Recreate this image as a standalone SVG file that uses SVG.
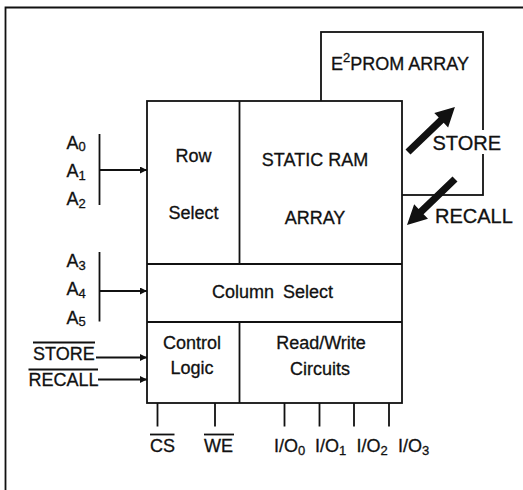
<svg xmlns="http://www.w3.org/2000/svg" width="523" height="490" viewBox="0 0 523 490">
<defs>
<style>
.ln{stroke:#111;stroke-width:1.8;fill:none}
.box{stroke:#111;stroke-width:1.8;fill:#fff}
.t{font-family:"Liberation Sans",Arial,sans-serif;font-size:18px;fill:#111;stroke:#111;stroke-width:0.3}
.tm{text-anchor:middle}
.big{font-size:20px}
.sub{font-size:13px}
.thick{fill:#111}
</style>
<marker id="ah" viewBox="0 0 10 10" refX="10" refY="5" markerWidth="9" markerHeight="7" markerUnits="userSpaceOnUse" orient="auto"><path d="M0,0L10,5L0,10z" fill="#111"/></marker>
</defs>
<rect width="523" height="490" fill="#fff"/>
<g id="frame"><path class="ln" d="M5.5,490V7.5H523"/></g>
<g id="eeprom">
<rect class="box" x="321" y="32" width="162" height="163"/>
<text class="t" x="331" y="69.5">E<tspan class="sub" dy="-8">2</tspan><tspan dy="8">PROM ARRAY</tspan></text>
</g>
<g id="main">
<rect class="box" x="147" y="101" width="255" height="302"/>
<path class="ln" d="M239.5,101V264M147,264H402M147,322H402M239.5,322V403"/>
</g>
<g id="row-select"><text class="t tm" x="193.5" y="162">Row</text><text class="t tm" x="193.5" y="219">Select</text></g>
<g id="static-ram"><text class="t tm" x="315" y="166">STATIC RAM</text><text class="t tm" x="315" y="223.5">ARRAY</text></g>
<g id="column-select"><text class="t tm" x="272.5" y="297.5" word-spacing="4">Column Select</text></g>
<g id="control-logic"><text class="t tm" x="192" y="348.5">Control</text><text class="t tm" x="192" y="373.5">Logic</text></g>
<g id="rw-circuits"><text class="t tm" x="321" y="348.5">Read/Write</text><text class="t tm" x="320" y="375">Circuits</text></g>
<g id="addr-a0-a2">
<text class="t" x="66.5" y="148.5">A<tspan class="sub" dy="2.5">0</tspan></text>
<text class="t" x="66.5" y="177">A<tspan class="sub" dy="2.5">1</tspan></text>
<text class="t" x="66.5" y="205">A<tspan class="sub" dy="2.5">2</tspan></text>
</g>
<g id="addr-a3-a5">
<text class="t" x="66.5" y="267">A<tspan class="sub" dy="2.5">3</tspan></text>
<text class="t" x="66.5" y="295">A<tspan class="sub" dy="2.5">4</tspan></text>
<text class="t" x="66.5" y="323.5">A<tspan class="sub" dy="2.5">5</tspan></text>
</g>
<g id="store-in"><text class="t" x="33" y="359.5">STORE</text><path class="ln" d="M33,342.5H95"/></g>
<g id="recall-in"><text class="t" x="28.5" y="386">RECALL</text><path class="ln" d="M28.5,369.5H98"/></g>
<g id="pin-cs"><text class="t" x="150" y="452">CS</text><path class="ln" d="M150,434.5H174.5"/></g>
<g id="pin-we"><text class="t" x="204" y="452">WE</text><path class="ln" d="M204,434.5H234"/></g>
<g id="pins-io">
<text class="t" x="274" y="452">I/O<tspan class="sub" dy="2.5">0</tspan></text>
<text class="t" x="315" y="452">I/O<tspan class="sub" dy="2.5">1</tspan></text>
<text class="t" x="356.5" y="452">I/O<tspan class="sub" dy="2.5">2</tspan></text>
<text class="t" x="398" y="452">I/O<tspan class="sub" dy="2.5">3</tspan></text>
</g>
<g id="connectors">
<path class="ln" d="M99.5,134V205M99.5,252V321.5"/>
<path class="ln" d="M99.5,170H147" marker-end="url(#ah)"/>
<path class="ln" d="M99.5,291H147" marker-end="url(#ah)"/>
<path class="ln" d="M96,357.5H147" marker-end="url(#ah)"/>
<path class="ln" d="M98,379.5H147" marker-end="url(#ah)"/>
<path class="ln" d="M157.5,403V426.5M215,403V426.5M284.5,403V426.5M319.5,403V426.5M354,403V426.5M389,403V426.5"/>
<rect x="428" y="130" width="76" height="24" fill="#fff"/>
<path class="thick" transform="translate(408,152) rotate(-43.8)" d="M0,-3.6H46V-10L65,0L46,10V3.6H0Z"/>
<path class="thick" transform="translate(455,179) rotate(136.2)" d="M0,-3.6H47V-10L66.5,0L47,10V3.6H0Z"/>
</g>
<g id="store-label"><text class="t big" x="432.5" y="150">STORE</text></g>
<g id="recall-label"><text class="t big" x="435" y="223">RECALL</text></g>
</svg>
